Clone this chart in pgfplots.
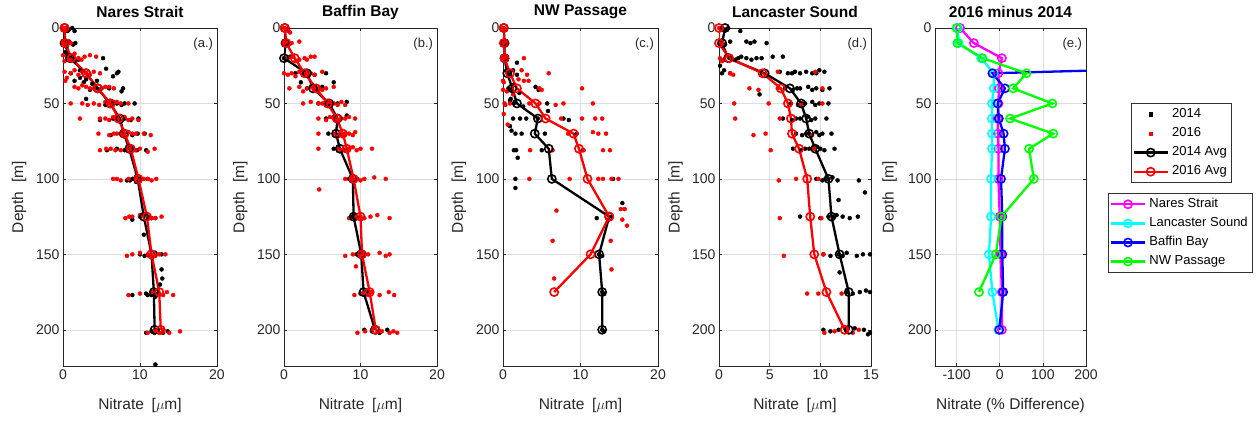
\documentclass[border=0pt]{standalone}
\usepackage{fontspec}
\setmainfont{Liberation Sans}
\usepackage{pgfplots}
\pgfplotsset{compat=1.18}
\definecolor{mred}{rgb}{1,0,0}
\definecolor{mmag}{rgb}{1,0,1}
\definecolor{mcyan}{rgb}{0,1,1}
\definecolor{mblue}{rgb}{0,0,1}
\definecolor{mgreen}{rgb}{0,1,0}
\pgfplotsset{
 myax/.style={
  scale only axis, height=338pt, y dir=reverse, ymin=0, ymax=224,
  ytick={0,50,100,150,200}, grid=major, grid style={black!13, line width=0.5pt},
  axis line style={black!85, line width=0.6pt},
  tick align=inside, major tick length=3pt, tick style={black!85, line width=0.5pt},
  ticklabel style={font=\fontsize{14}{16}\selectfont, text=black!85},
  /pgf/number format/assume math mode=true,
  label style={font=\fontsize{15.5}{18}\selectfont, text=black!85},
  title style={font=\bfseries\fontsize{15.5}{18}\selectfont, at={(axis description cs:0.5,1.029)}, anchor=center},
  xlabel style={at={(axis description cs:0.5,-0.118)}, anchor=center},
  ylabel style={at={(axis description cs:-0.285,0.5)}, anchor=center},
  anchor=south west,
  ylabel={Depth\hspace{0.6em}[m]},
  xlabel={Nitrate\hspace{0.5em}[$\mu$m]},
  legend image code/.code={\draw[mark repeat=2,mark phase=2] plot coordinates {(0pt,0pt) (17pt,0pt) (34pt,0pt)};},
 },
 sc/.style={only marks, mark=*, mark size=2.0pt,
   legend image code/.code={\draw[##1, mark=square*, mark size=1.6pt] plot coordinates {(17pt,0pt)};}},
 av/.style={mark=o, mark size=4.1pt, line width=2.3pt, mark options={line width=1.6pt}},
 lg/.style={legend style={draw=black!80, line width=0.6pt, font=\fontsize{13}{15}\selectfont,
   inner sep=1.5pt, row sep=0pt, nodes={text height=9.5pt, text depth=3pt, inner sep=3.3pt}, anchor=north west},
   legend cell align=left},
}
\begin{document}
\begin{tikzpicture}
\useasboundingbox (0pt,0pt) rectangle (1258pt,421pt);
% ---------------- (a) Nares Strait
\begin{axis}[myax, at={(63pt,55pt)}, width=154pt, xmin=0, xmax=20, xtick={0,10,20}, title={Nares Strait}]
\addplot[sc, black] coordinates {
(0.4,0)(0.8,1)(1.2,0)(1.5,2)(0.6,2)
(0.3,10)(0.8,9)(1.3,11)(1.6,10)(0.5,12)
(0.5,18)(1.0,20)(2.0,21)(5.2,20)(1.5,22)(0.3,16)
(5.6,27)(7.0,30)(7.2,29)(6.5,32)(3.0,30)(2.2,28)(1.0,30)
(1.5,35)(3.0,34)(4.4,35)(2.7,36)(3.8,37)(2.2,33)
(7.8,40)(7.6,42)(5.0,40)(3.5,41)(6.0,40)(4.4,40)
(3.0,47)
(9.3,50)(7.0,50)(5.5,51)(8.0,50)(6.5,49)(7.6,51)
(4.8,61)(6.5,60)(8.0,60)(9.8,60)(7.5,62)(8.8,61)
(6.2,71)(7.5,70)(9.0,71)(10.6,70)(8.4,69)(9.7,70)
(5.7,81)(7.0,80)(8.5,79)(9.6,81)(10.8,81)(8.0,81)
(8.3,101)(9.0,100)(10.0,100)(11.0,100)(9.5,102)(8.7,101)
(9.0,127)(10.0,125)(11.0,125)(12.0,126)(10.5,124)(11.5,126)
(10.5,137)
(10.0,150)(11.2,151)(12.0,149)(12.8,150)(11.6,152)(10.6,151)
(12.8,160)(12.9,166)(12.6,170)
(9.0,177)(11.0,177)(12.0,178)(12.3,176)(10.8,176)(11.5,177)
(10.8,202)(11.5,201)(12.3,200)(13.0,202)(13.6,201)(11.9,202)
(12.0,223)
};
\addplot[sc, mred] coordinates {
(0,0)(0.2,1)(0.4,0)
(0,10)(0.3,11)(0.6,9)(1.0,10)
(0,18)(0.5,19)(1.0,21)(2.0,20)(2.8,19)(3.5,18)(4.3,19)(1.5,17)(0.2,22)(2.4,21)
(0.2,29)(1.0,30)(2.0,31)(3.0,30)(4.0,29)(4.8,30)(0.5,33)(1.5,28)(2.5,29)(3.5,31)
(0.3,35)(1.5,39)(3.0,39)(4.0,40)(5.5,39)(6.0,39)(6.6,40)(2.5,38)(3.5,40)(5.0,40)(2.0,40)
(1.0,50)(2.5,50)(4.0,50)(5.5,49)(6.5,51)(7.5,50)(8.5,50)(3.2,51)(4.7,51)(6.0,50)(7.0,49)
(2.2,60)(4.8,60)(6.0,61)(7.0,60)(8.0,59)(9.0,60)(9.8,61)(5.5,60)(6.5,59)(8.5,61)
(4.6,70)(6.0,71)(7.0,70)(8.5,69)(9.5,70)(10.5,70)(11.4,71)(6.6,70)(7.8,71)(9.0,70)
(4.8,81)(6.2,80)(7.5,81)(8.8,80)(10.0,80)(11.0,82)(11.9,80)(5.6,80)(6.8,81)(9.4,81)
(6.5,100)(7.5,101)(8.5,100)(9.5,99)(10.5,100)(11.5,101)(12.1,100)(7.0,100)(10.0,101)(11.0,100)
(8.1,126)(9.0,125)(10.0,124)(11.0,125)(12.0,126)(12.8,125)(8.6,125)(11.5,126)
(8.3,151)(9.0,150)(10.0,149)(11.0,150)(12.0,151)(13.3,150)(12.5,150)(11.5,151)
(8.5,177)(10.0,176)(11.5,175)(12.5,176)(13.5,175)(14.3,177)(13.0,177)
(11.0,202)(12.0,201)(13.0,200)(13.8,202)(15.2,201)(12.5,202)
};
\addplot[av, black] coordinates {(0.2,0)(0.2,10)(0.9,20)(3.0,30)(4.5,40)(6.1,50)(7.4,60)(7.9,70)(8.6,80)(9.7,100)(10.5,125)(11.5,150)(11.8,175)(11.9,200)};
\addplot[av, mred] coordinates {(0.2,0)(0.3,10)(1.1,20)(3.0,30)(4.5,40)(6.2,50)(7.2,60)(8.0,70)(8.8,80)(9.8,100)(10.9,125)(11.5,150)(12.5,175)(12.7,200)};
\node[anchor=north east, inner sep=0pt, font=\fontsize{13}{15}\selectfont, text=black!85] at (axis description cs:0.975,0.972) {(a.)};
\end{axis}
% ---------------- (b) Baffin Bay
\begin{axis}[myax, at={(284pt,55pt)}, width=153pt, xmin=0, xmax=20, xtick={0,10,20}, title={Baffin Bay}]
\addplot[sc, black] coordinates {
(0.1,0)(0.4,1)(0.2,10)(0.6,11)(0,20)(0.3,21)(0.8,19)
(1.5,30)(3.0,30)(4.0,31)(5.5,30)(2.2,36)(6.5,36)(3.0,40)(4.5,41)(5.0,39)
(4.5,50)(6.0,51)(8.2,49)(7.0,50)(5.5,60)(7.0,61)(8.2,58)(6.5,59)
(5.8,70)(7.0,71)(8.0,70)(6.5,80)(7.5,81)(8.5,80)
(8.5,100)(9.0,101)(9.6,100)(8.9,125)(9.5,126)(9.2,124)(9.5,150)(10.4,151)(9.8,149)
(10.0,176)(10.8,175)(10.5,177)(10.5,200)(11.5,201)(12.5,202)(13.5,200)
};
\addplot[sc, mred] coordinates {
(0,0)(0.3,1)(0.6,2)(0.8,3)
(0,10)(0.5,9)(1.0,10)(2.0,9)
(0.5,20)(1.2,19)(2.0,21)(2.7,20)(3.5,19)(4.0,19)(1.5,22)(3.0,21)
(0,30)(1.0,30)(2.0,29)(3.0,30)(4.0,31)(5.0,29)(1.5,32)(2.5,31)(3.5,30)(0.5,31)
(0.7,40)(2.0,39)(3.0,40)(4.0,41)(5.5,40)(6.5,39)(2.5,42)(3.5,39)(4.5,40)(5.0,41)
(2.5,50)(3.5,49)(4.5,50)(5.5,51)(6.5,50)(7.5,49)(8.0,51)(5.0,50)(6.0,49)(7.0,51)
(4.5,60)(5.5,61)(6.5,60)(7.5,60)(8.5,59)(9.3,60)(6.0,59)(7.0,61)(8.0,60)
(4.5,70)(6.5,70)(7.5,71)(8.5,70)(9.3,69)(7.0,72)(8.0,70)(9.0,71)
(4.5,80)(7.0,80)(8.0,81)(9.0,79)(10.0,80)(11.5,80)(7.5,81)(8.5,80)(9.5,81)
(8.0,100)(8.8,101)(9.5,100)(10.5,100)(11.8,99)(13.3,100)(9.0,100)(10.0,101)
(4.6,107)
(8.5,126)(9.5,125)(10.5,126)(11.3,125)(13.8,126)(12.2,124)(10.0,125)
(8.0,151)(9.0,150)(10.0,151)(11.0,150)(12.5,149)(13.3,151)(13.8,150)(10.5,150)
(9.4,158)
(9.2,177)(10.3,176)(11.5,175)(12.5,177)(13.7,175)(14.4,177)(11.0,177)
(9.6,202)(10.6,201)(11.5,200)(12.8,201)(13.8,202)(14.8,202)(12.2,201)(14.3,201)
};
\addplot[av, black] coordinates {(0.1,0)(0.2,10)(0.0,20)(3.0,30)(3.8,40)(5.9,50)(7.0,60)(6.8,70)(7.3,80)(9.0,100)(9.1,125)(10.1,150)(10.4,175)(11.9,200)};
\addplot[av, mred] coordinates {(0.1,0)(0.3,10)(1.4,20)(2.7,30)(4.2,40)(5.7,50)(6.9,60)(7.7,70)(8.2,80)(9.1,100)(10.0,125)(10.2,150)(11.2,175)(12.0,200)};
\node[anchor=north east, inner sep=0pt, font=\fontsize{13}{15}\selectfont, text=black!85] at (axis description cs:0.975,0.972) {(b.)};
\end{axis}
% ---------------- (c) NW Passage
\begin{axis}[myax, at={(503pt,55pt)}, width=155pt, xmin=0, xmax=20, xtick={0,10,20}, title={NW Passage}]
\addplot[sc, black] coordinates {
(0.1,0)(0.3,1)(0.2,10)(0.4,11)(0.1,20)(0.5,21)
(1.8,23)(1.3,28)(1.8,31)(0.5,29)(0.9,31)
(1.3,38)(4.2,39)(4.6,41)(0.7,40)(1.0,41)(2.1,43)
(1.0,47)(1.4,50)(5.7,50)(5.8,55)(0.9,48)(2.6,52)
(1.3,60)(2.2,60)(3.0,60)(4.5,60)(7.8,60)(8.5,61)
(0.9,65)(1.6,70)(2.4,70)(1.1,68)(5.4,70)(9.5,70)
(1.4,81)(1.7,81)(1.9,86)(5.0,81)(10.3,81)
(1.6,100)(1.6,106)(14.2,100)
(15.4,116)(12.1,126)(14.0,125)
(12.4,150)(12.8,151)
(12.8,175)(13.0,176)
(12.8,200)(13.0,201)
};
\addplot[sc, mred] coordinates {
(0,0)(0.2,1)(0,10)(0.3,9)(0.1,20)(0.5,19)
(2.7,20)(5.9,30)(2.4,28)(3.1,31)(3.3,35)(0,35)(0.1,36)(2.7,35)(2.0,34)
(4.7,40)(5.0,41)(10.2,40)(0,41)(0.5,42)(1.3,44)
(0.2,50)(0.3,51)(0.9,50)(3.4,50)(4.7,50)(6.8,51)(7.8,50)(11.6,50)
(0.1,57)(7.5,60)(10.2,60)(11.9,60)(12.8,60)
(0.6,64)(8.4,70)(11.6,69)(12.3,70)(13.3,70)
(3.5,81)(6.4,81)(10.4,81)(12.9,81)(13.8,81)
(3.4,100)(8.6,100)(12.3,100)(12.9,100)(14.0,100)(14.9,100)
(15.2,120)(15.7,120)(15.4,127)(16.0,131)(6.9,121)
(6.4,141)(13.9,141)
(14.0,160)(6.6,166)
};
\addplot[av, black] coordinates {(0.1,0)(0.2,10)(0.2,20)(0.55,30)(1.2,40)(1.8,50)(4.5,60)(4.1,70)(5.9,80)(6.3,100)(13.7,125)(12.4,150)(12.8,175)(12.8,200)};
\addplot[av, mred] coordinates {(0.1,0)(0.1,10)(0.2,20)(0.9,30)(1.8,40)(4.2,50)(5.5,60)(9.1,70)(9.8,80)(10.9,100)(13.7,125)(11.3,150)(6.6,175)};
\node[anchor=north east, inner sep=0pt, font=\fontsize{13}{15}\selectfont, text=black!85] at (axis description cs:0.975,0.972) {(c.)};
\end{axis}
% ---------------- (d) Lancaster Sound
\begin{axis}[myax, lg, at={(719pt,55pt)}, width=152pt, xmin=0, xmax=15, xtick={0,5,10,15}, title={Lancaster Sound},
  legend style={at={(2.709,0.778)}}]
\addplot[sc, black] coordinates {
(0.3,0)(0.6,1)(0.9,0)(2.1,2)
(0.1,10)(0.6,11)(1.1,9)(2.7,9)(3.1,10)(3.5,9)(4.7,10)
(1.1,20)(1.6,21)(2.2,19)(2.7,20)(3.7,20)(4.2,20)(5.3,19)(6.3,19)(1.9,20)(3.2,21)
(0.1,25)(0.5,28)(1.1,30)(0.3,30)
(6.0,29)(6.8,30)(7.5,29)(8.0,30)(8.6,29)(9.2,30)(9.9,28)(10.4,29)(7.2,30)(9.6,30)
(6.5,40)(7.3,41)(8.0,40)(8.8,39)(9.6,40)(10.2,41)(10.9,40)(4.0,44)(7.7,40)(9.2,41)
(7.1,50)(7.8,51)(8.5,50)(9.2,49)(9.9,50)(10.8,50)(8.2,50)(9.5,51)
(6.3,60)(7.2,61)(8.0,60)(8.7,59)(9.5,60)(10.6,60)(7.6,60)(9.1,61)
(7.6,70)(8.2,71)(8.9,70)(9.6,69)(10.2,70)(11.1,70)(8.6,70)(9.9,71)
(7.3,80)(8.1,81)(8.9,80)(9.6,79)(10.4,81)(11.4,80)(8.5,80)(10.0,80)
(9.6,100)(10.2,101)(10.8,100)(11.2,99)(11.7,101)(13.8,101)(10.5,100)
(14.4,109)(11.8,114)
(8.0,125)(10.0,126)(10.8,125)(11.6,124)(12.2,125)(12.9,126)(13.7,125)(11.3,125)
(10.3,150)(11.0,151)(11.8,150)(12.6,149)(13.6,151)(14.2,150)(14.9,150)(12.2,151)
(11.9,162)
(12.6,175)(13.2,176)(13.9,175)(14.5,174)(14.9,175)
(10.3,200)(11.0,201)(11.8,200)(12.6,201)(13.4,199)(14.3,200)(14.7,203)(14.9,202)
};
\addlegendentry{2014}
\addplot[sc, mred] coordinates {
(0,0)(0.2,1)(0,10)(0.3,11)(0.1,20)(0.5,21)(1.2,20)(0.3,22)
(1.1,30)(1.4,31)(5.8,29)(9.5,29)
(3.0,40)(3.9,41)(5.8,40)(10.2,40)
(1.5,50)(4.9,50)(8.1,51)(10.2,50)
(1.6,60)(6.0,60)
(3.4,71)(4.6,70)(9.2,71)
(5.1,81)(9.4,80)
(5.9,101)(7.6,100)(9.8,100)
(6.0,126)(10.1,126)
(6.4,151)(10.3,150)
(8.7,176)(9.8,176)(12.1,176)
(10.4,202)(11.4,201)(12.6,200)(13.2,202)(13.8,200)
};
\addlegendentry{2016}
\addplot[av, black] coordinates {(0.6,0)(0.3,10)(0.9,20)(4.5,30)(7.0,40)(8.1,50)(8.6,60)(8.9,70)(9.5,80)(10.8,100)(11.1,125)(11.9,150)(12.8,175)(12.8,200)};
\addlegendentry{2014 Avg}
\addplot[av, mred] coordinates {(0,0)(0,10)(1.0,20)(4.3,30)(6.1,40)(6.8,50)(7.1,60)(7.2,70)(7.9,80)(8.7,100)(9.0,125)(9.4,150)(10.6,175)(12.4,200)};
\addlegendentry{2016 Avg}
\node[anchor=north east, inner sep=0pt, font=\fontsize{13}{15}\selectfont, text=black!85] at (axis description cs:0.975,0.972) {(d.)};
\end{axis}
% ---------------- (e) difference
\begin{axis}[myax, lg, at={(935pt,55pt)}, width=151pt, xmin=-150, xmax=200, xtick={-100,0,100,200}, title={2016 minus 2014},
  xlabel={Nitrate (\% Difference)}, ylabel style={at={(axis description cs:-0.30,0.5)}},
  legend style={at={(1.146,0.512)}}]
\addplot[av, mmag] coordinates {(-92,0)(-60,10)(5,20)(-3,30)(-2,40)(-3,50)(-5,60)(-4,70)(-3,80)(-3,100)(0,125)(2,150)(5,175)(5,200)};
\addlegendentry{Nares Strait}
\addplot[av, mcyan] coordinates {(-97,0)(-95,10)(-43,20)(-14,30)(-14,40)(-18,50)(-18,60)(-18,70)(-18,80)(-20,100)(-20,125)(-25,150)(-17,175)(-3,200)};
\addlegendentry{Lancaster Sound}
\addplot[av, mblue] coordinates {(1260,20)(-17,30)(12,40)(-5,50)(-2,60)(9,70)(12,80)(3,100)(6,125)(6,150)(8,175)(-1,200)};
\addlegendentry{Baffin Bay}
\addplot[av, mgreen] coordinates {(-100,0)(-98,10)(-40,20)(62,30)(31,40)(122,50)(24,60)(124,70)(68,80)(79,100)(4,125)(-9,150)(-48,175)};
\addlegendentry{NW Passage}
\node[anchor=north east, inner sep=0pt, font=\fontsize{13}{15}\selectfont, text=black!85] at (axis description cs:0.975,0.972) {(e.)};
\end{axis}
\end{tikzpicture}
\end{document}
